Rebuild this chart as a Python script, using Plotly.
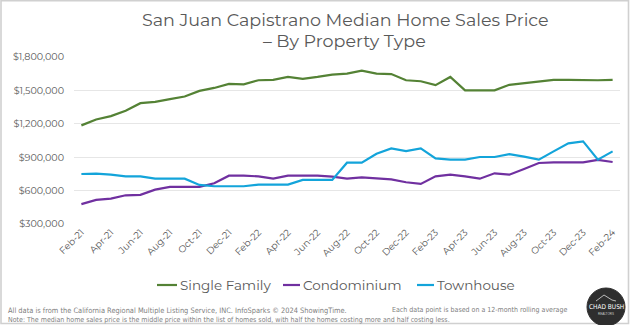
import plotly.graph_objects as go

months = ["Feb-21","Mar-21","Apr-21","May-21","Jun-21","Jul-21","Aug-21","Sep-21","Oct-21","Nov-21","Dec-21","Jan-22",
          "Feb-22","Mar-22","Apr-22","May-22","Jun-22","Jul-22","Aug-22","Sep-22","Oct-22","Nov-22","Dec-22","Jan-23",
          "Feb-23","Mar-23","Apr-23","May-23","Jun-23","Jul-23","Aug-23","Sep-23","Oct-23","Nov-23","Dec-23","Jan-24","Feb-24"]

single_family = [1186000,1239000,1269000,1317000,1385000,1397000,1421000,1445000,1496000,1522000,1558000,1555000,
                 1591000,1594000,1621000,1603000,1621000,1642000,1651000,1678000,1650000,1647000,1591000,1582000,
                 1547000,1621000,1500000,1500000,1500000,1550000,1564000,1582000,1594000,1594000,1591000,1591000,1594000]

condominium = [478000,516000,528000,558000,562000,609000,633000,633000,633000,666000,734000,734000,
               728000,707000,734000,734000,734000,725000,707000,719000,707000,701000,675000,660000,
               728000,743000,728000,707000,755000,743000,794000,848000,854000,851000,854000,875000,857000]

townhouse = [749000,752000,743000,728000,728000,707000,707000,707000,651000,639000,639000,639000,
             654000,654000,654000,696000,696000,696000,851000,851000,931000,979000,955000,979000,
             890000,878000,878000,902000,902000,928000,905000,878000,952000,1024000,1042000,878000,952000]

series_names = ["Single Family", "Condominium", "Townhouse"]
series_colors = ["#548235", "#7030A0", "#13A4DA"]

tick_labels = months[::2]
y_ticks = [300000, 600000, 900000, 1200000, 1500000, 1800000]

title_line1 = "San Juan Capistrano Median Home Sales Price"
title_line2 = "– By Property Type"
footer_left1 = "All data is from the California Regional Multiple Listing Service, INC. InfoSparks © 2024 ShowingTime."
footer_left2 = "Note: The median home sales price is the middle price within the list of homes sold, with half the homes costing more and half costing less."
footer_right = "Each data point is based on a 12-month rolling average"

W, H = 630, 325
ML, MR, MT, MB = 74, 10, 57, 101
PW = W - ML - MR
PH = H - MT - MB

def px(x):
    return (x - ML) / PW

def py(y):
    return (H - MB - y) / PH

fig = go.Figure()
for name, vals, col in zip(series_names, [single_family, condominium, townhouse], series_colors):
    fig.add_trace(go.Scatter(x=months, y=vals, mode="lines", name=name, showlegend=False,
                             line=dict(color=col, width=2.2)))

font_main = "Montserrat, 'Open Sans', sans-serif"
font_foot = "'Liberation Sans Narrow', 'DejaVu Sans Condensed', 'Liberation Sans', sans-serif"
grey = "#595959"
foot_grey = "#808080"

annotations = [
    dict(text=title_line1, x=px(345), y=py(19), xref="paper", yref="paper", showarrow=False,
         xanchor="center", yanchor="middle", font=dict(family=font_main, size=17.5, color=grey)),
    dict(text=title_line2, x=px(344), y=py(40), xref="paper", yref="paper", showarrow=False,
         xanchor="center", yanchor="middle", font=dict(family=font_main, size=17.5, color=grey)),
    dict(text=footer_left1, x=px(6), y=py(310), xref="paper", yref="paper", showarrow=False,
         xanchor="left", yanchor="middle", font=dict(family=font_foot, size=7.4, color=foot_grey)),
    dict(text=footer_left2, x=px(6), y=py(319.5), xref="paper", yref="paper", showarrow=False,
         xanchor="left", yanchor="middle", font=dict(family=font_foot, size=7, color=foot_grey)),
    dict(text=footer_right, x=px(390), y=py(310), xref="paper", yref="paper", showarrow=False,
         xanchor="left", yanchor="middle", font=dict(family=font_foot, size=7, color=foot_grey)),
    dict(text="CHAD BUSH", x=px(606), y=py(307), xref="paper", yref="paper", showarrow=False,
         xanchor="center", yanchor="middle", font=dict(family=font_foot, size=6.5, color="#ffffff")),
    dict(text="REALTORS", x=px(606), y=py(313.5), xref="paper", yref="paper", showarrow=False,
         xanchor="center", yanchor="middle", font=dict(family="'Liberation Sans', sans-serif", size=3, color="#cccccc")),
]

# manual legend (short line + text, as in the reference)
legend_items = [(157, 177, 178), (283, 300, 301), (417, 434, 435)]
shapes = [
    dict(type="rect", xref="paper", yref="paper", x0=px(1), x1=px(628.5), y0=py(323.5), y1=py(0.8),
         line=dict(color="#d0d0d0", width=1.6), fillcolor="rgba(0,0,0,0)", layer="below"),
    dict(type="circle", xref="paper", yref="paper", x0=px(587), x1=px(625), y0=py(326), y1=py(288),
         fillcolor="#2e2e2e", line=dict(color="#2e2e2e", width=1)),
    dict(type="path", xref="paper", yref="paper",
         path=f"M {px(596)} {py(301)} L {px(604)} {py(295)} L {px(612)} {py(300)} L {px(616)} {py(301)}",
         line=dict(color="#dddddd", width=0.8)),
]
for (x0, x1, xt), name, col in zip(legend_items, series_names, series_colors):
    shapes.append(dict(type="line", xref="paper", yref="paper", x0=px(x0), x1=px(x1), y0=py(285), y1=py(285),
                       line=dict(color=col, width=2.2)))
    annotations.append(dict(text=name, x=px(xt), y=py(285), xref="paper", yref="paper", showarrow=False,
                            xanchor="left", yanchor="middle",
                            font=dict(family=font_main, size=13.5, color=grey)))

fig.update_layout(
    width=W, height=H,
    margin=dict(l=ML, r=MR, t=MT, b=MB, pad=0),
    paper_bgcolor="white", plot_bgcolor="white",
    showlegend=False,
    annotations=annotations,
    shapes=shapes,
    xaxis=dict(type="category", range=[-0.5, len(months) - 0.5], tickmode="array",
               tickvals=tick_labels, ticktext=tick_labels, tickangle=-45,
               tickfont=dict(family=font_main, size=9.5, color=grey),
               showgrid=False, zeroline=False, showline=False, ticks=""),
    yaxis=dict(range=[300000, 1800000], tickmode="array", tickvals=y_ticks,
               ticktext=[f"${v:,.0f}" for v in y_ticks],
               tickfont=dict(family=font_main, size=9.6, color=grey),
               showgrid=True, gridcolor="#e6e6e6", gridwidth=1, zeroline=False,
               showline=False, ticks="", ticklabelstandoff=9),
)

fig.write_html("out.html")
